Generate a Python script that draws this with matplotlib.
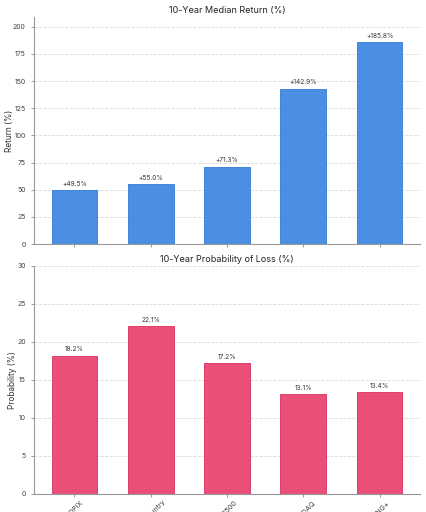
import matplotlib
matplotlib.use("Agg")
import matplotlib.pyplot as plt

categories = ["TOPIX", "All Country", "S&P500", "NASDAQ", "FANG+"]
median_return = [49.5, 55.0, 71.3, 142.9, 185.8]
prob_loss = [18.2, 22.1, 17.2, 13.1, 13.4]

plt.rcParams['font.family'] = ['Inter', 'DejaVu Sans']

fig = plt.figure(figsize=(4.27, 5.12), dpi=100)
ax1 = fig.add_axes([0.0796, 0.5234, 0.904, 0.4434])
ax2 = fig.add_axes([0.0796, 0.0352, 0.904, 0.4453])

blue = "#4A8FE2"
blue_edge = "#2F7BD9"
pink = "#E94F77"
pink_edge = "#DC2E62"

def style(ax):
    for s in ["top", "right"]:
        ax.spines[s].set_visible(False)
    for s in ["left", "bottom"]:
        ax.spines[s].set_color("#999999")
        ax.spines[s].set_linewidth(0.8)
    ax.yaxis.grid(True, linestyle="--", color="#d9d9d9", linewidth=0.6)
    ax.set_axisbelow(True)
    ax.tick_params(axis="both", labelsize=5, colors="#888888", length=2.5, width=0.6)
    ax.tick_params(axis="both", labelcolor="#444444")

x = list(range(len(categories)))

ax1.bar(x, median_return, width=0.6, color=blue, edgecolor=blue_edge, linewidth=0.6)
style(ax1)
ax1.set_ylim(0, 209)
ax1.set_yticks([0, 25, 50, 75, 100, 125, 150, 175, 200])
ax1.set_xticks(x)
ax1.set_xticklabels([])
ax1.set_ylabel("Return (%)", fontsize=6, color="#333333")
ax1.yaxis.set_label_coords(-0.053, 0.5)
ax1.set_title("10-Year Median Return (%)", fontsize=6.5, color="#222222", pad=3)
for xi, v in zip(x, median_return):
    ax1.annotate(f"+{v:.1f}%", (xi, v), xytext=(0, 2.5), textcoords="offset points",
                 ha="center", va="bottom", fontsize=4.7, color="#333333")

ax2.bar(x, prob_loss, width=0.6, color=pink, edgecolor=pink_edge, linewidth=0.6)
style(ax2)
ax2.set_ylim(0, 30)
ax2.set_yticks([0, 5, 10, 15, 20, 25, 30])
ax2.set_xticks(x)
ax2.set_xticklabels(categories, rotation=45, ha="center", fontsize=5.2)
ax2.tick_params(axis="x", pad=1.5)
ax2.set_ylabel("Probability (%)", fontsize=6, color="#333333")
ax2.yaxis.set_label_coords(-0.043, 0.5)
ax2.set_title("10-Year Probability of Loss (%)", fontsize=6.5, color="#222222", pad=3)
for xi, v in zip(x, prob_loss):
    ax2.annotate(f"{v:.1f}%", (xi, v), xytext=(0, 2.5), textcoords="offset points",
                 ha="center", va="bottom", fontsize=4.7, color="#333333")

fig.savefig("out.png", dpi=100)
